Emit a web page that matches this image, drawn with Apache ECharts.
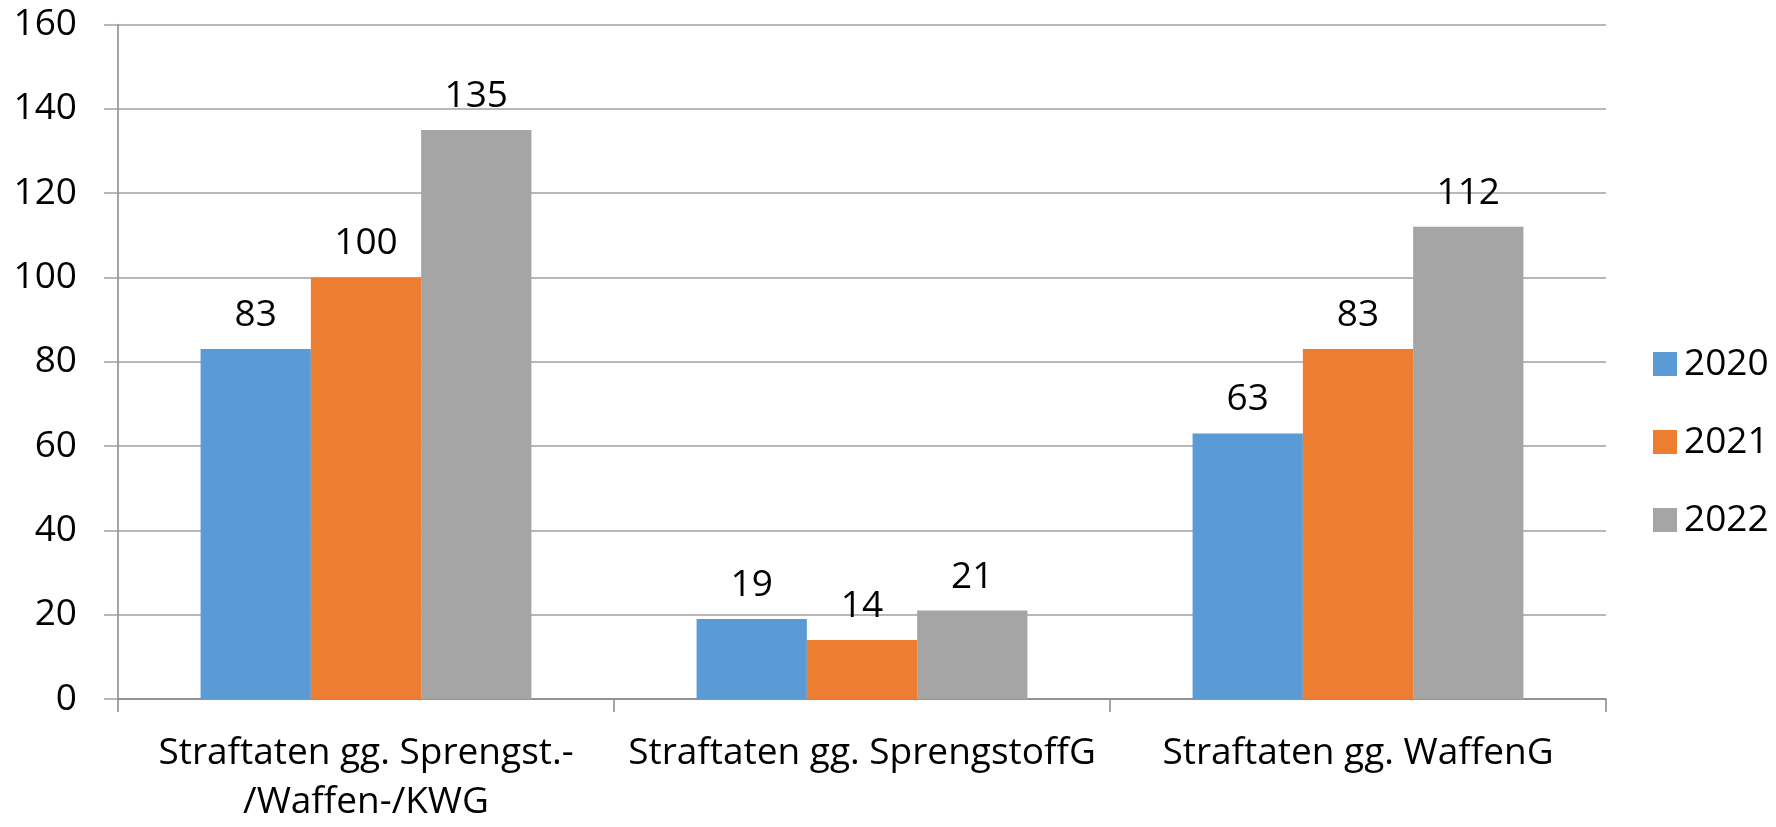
<!DOCTYPE html>
<html>
<head>
<meta charset="utf-8">
<script src="https://cdn.jsdelivr.net/npm/echarts@6/dist/echarts.min.js"></script>
<style>
html,body{margin:0;padding:0;background:#fff;}
#chart{width:1776px;height:827px;}
</style>
</head>
<body>
<div id="chart"></div>
<script>
const categories = ["Straftaten gg. Sprengst.-\n/Waffen-/KWG", "Straftaten gg. SprengstoffG", "Straftaten gg. WaffenG"];
const seriesNames = ["2020", "2021", "2022"];
const values2020 = [83, 19, 63];
const values2021 = [100, 14, 83];
const values2022 = [135, 21, 112];
const colors = ["#5B9BD5", "#ED7D31", "#A5A5A5"];
const yMin = 0, yMax = 160, yStep = 20;

const FONT = "'Open Sans', 'Noto Sans', sans-serif";
const FS = 37;

const chart = echarts.init(document.getElementById('chart'), null, {renderer: 'canvas'});
const allValues = [values2020, values2021, values2022];

chart.setOption({
  animation: false,
  backgroundColor: '#ffffff',
  textStyle: {fontFamily: FONT},
  grid: {left: 118, right: 170, top: 24.5, bottom: 124.3, containLabel: false},
  legend: {
    orient: 'vertical',
    left: 1648,
    top: 340.5,
    itemWidth: 24,
    itemHeight: 24,
    itemGap: 41,
    icon: 'rect',
    data: seriesNames,
    textStyle: {fontFamily: FONT, fontSize: FS, color: '#000', lineHeight: 24, padding: [0, 0, 0, 2]}
  },
  xAxis: {
    type: 'category',
    data: categories,
    axisLine: {show: true, lineStyle: {color: '#868686', width: 1.5}},
    axisTick: {show: true, length: 13, lineStyle: {color: '#868686', width: 1.5}},
    axisLabel: {fontFamily: FONT, fontSize: FS, color: '#000', margin: 30, lineHeight: 49, interval: 0}
  },
  yAxis: {
    type: 'value',
    min: yMin, max: yMax, interval: yStep,
    axisLine: {show: true, lineStyle: {color: '#868686', width: 1.5}},
    axisTick: {show: true, length: 14, lineStyle: {color: '#a0a0a0', width: 1.5}},
    splitLine: {show: true, lineStyle: {color: '#a0a0a0', width: 1.5}},
    axisLabel: {fontFamily: FONT, fontSize: FS, color: '#000', margin: 41}
  },
  series: seriesNames.map((name, i) => ({
    name: name,
    type: 'bar',
    data: allValues[i],
    itemStyle: {color: colors[i]},
    barGap: '0%',
    barCategoryGap: '33.3%',
    label: {show: true, position: 'top', distance: 15, fontFamily: FONT, fontSize: FS, color: '#000'}
  }))
});
</script>
</body>
</html>
